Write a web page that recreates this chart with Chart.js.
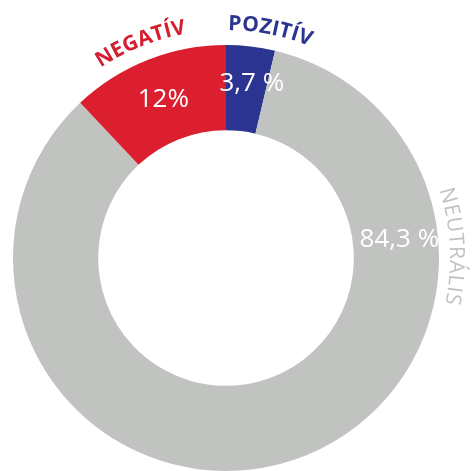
<!DOCTYPE html>
<html>
<head>
<meta charset="utf-8">
<script src="https://cdn.jsdelivr.net/npm/chart.js@4.4.0/dist/chart.umd.min.js"></script>
<style>
  html, body { margin: 0; padding: 0; background: #fff; }
  #wrap { width: 472px; height: 471px; position: relative; }
</style>
</head>
<body>
<div id="wrap"><canvas id="sentimentChart"></canvas></div>
<script>
const categories = ['POZITÍV', 'NEUTRÁLIS', 'NEGATÍV'];
const shares = [3.7, 84.3, 12];
const valueLabels = ['3,7 %', '84,3 %', '12%'];
const sliceColors = ['#2b3591', '#c1c3c1', '#dc1f2e'];

// degrees clockwise from top -> canvas radians
function toCanvasAngle(deg) {
  return ((deg - 90) * Math.PI) / 180;
}

function drawCurvedText(ctx, text, cx, cy, radius, centerAngle, spacing) {
  const chars = [...text];
  const widths = chars.map((c) => ctx.measureText(c).width);
  const total = widths.reduce((s, w) => s + w, 0) + spacing * (chars.length - 1);
  let offset = 0;
  const start = centerAngle - total / radius / 2;
  chars.forEach((c, i) => {
    const phi = start + (offset + widths[i] / 2) / radius;
    ctx.save();
    ctx.translate(cx + radius * Math.cos(phi), cy + radius * Math.sin(phi));
    ctx.rotate(phi + Math.PI / 2);
    ctx.fillText(c, 0, 0);
    ctx.restore();
    offset += widths[i] + spacing;
  });
}

const ringLabels = {
  id: 'ringLabels',
  afterDatasetsDraw(chart, args, opts) {
    const ctx = chart.ctx;
    const arcs = chart.getDatasetMeta(0).data;
    arcs.forEach((arc, i) => {
      const p = arc.getProps(
        ['x', 'y', 'startAngle', 'endAngle', 'innerRadius', 'outerRadius'],
        true
      );
      const mid = (p.startAngle + p.endAngle) / 2;
      const ringMid = (p.innerRadius + p.outerRadius) / 2;

      // value inside the ring
      const va = opts.valueAngle[i] != null ? toCanvasAngle(opts.valueAngle[i]) : mid;
      const vr = ringMid + (opts.valueShift[i] || 0);
      ctx.save();
      ctx.font = '400 26px "Open Sans"';
      ctx.fillStyle = '#ffffff';
      ctx.textAlign = 'center';
      ctx.textBaseline = 'middle';
      ctx.fillText(valueLabels[i], p.x + vr * Math.cos(va), p.y + vr * Math.sin(va));
      ctx.restore();

      // category name curved outside
      const na = opts.nameAngle[i] != null ? toCanvasAngle(opts.nameAngle[i]) : mid;
      ctx.save();
      ctx.font = opts.nameFont[i];
      ctx.fillStyle = opts.nameColor[i];
      ctx.textAlign = 'center';
      ctx.textBaseline = 'alphabetic';
      drawCurvedText(
        ctx,
        categories[i],
        p.x,
        p.y,
        p.outerRadius + opts.nameGap[i],
        na,
        opts.nameSpacing[i]
      );
      ctx.restore();
    });
  },
};

new Chart(document.getElementById('sentimentChart'), {
  type: 'doughnut',
  data: {
    labels: categories,
    datasets: [
      {
        data: shares,
        backgroundColor: sliceColors,
        borderWidth: 0,
      },
    ],
  },
  options: {
    responsive: true,
    maintainAspectRatio: false,
    animation: false,
    cutout: '60%',
    layout: {
      padding: { left: 13, right: 33, top: 45, bottom: 0 },
    },
    plugins: {
      legend: { display: false },
      tooltip: { enabled: false },
      ringLabels: {
        valueAngle: [8.4, 83.8, null],
        valueShift: [6, 4, 0],
        nameAngle: [11, 87, -21.7],
        nameGap: [15, 11, 15],
        nameSpacing: [0.3, 0.8, 0.3],
        nameFont: ['700 21px "Open Sans"', '400 21px "Open Sans"', '700 21px "Open Sans"'],
        nameColor: ['#2b3591', '#c1c3c1', '#d41f30'],
      },
    },
  },
  plugins: [ringLabels],
});
</script>
</body>
</html>
